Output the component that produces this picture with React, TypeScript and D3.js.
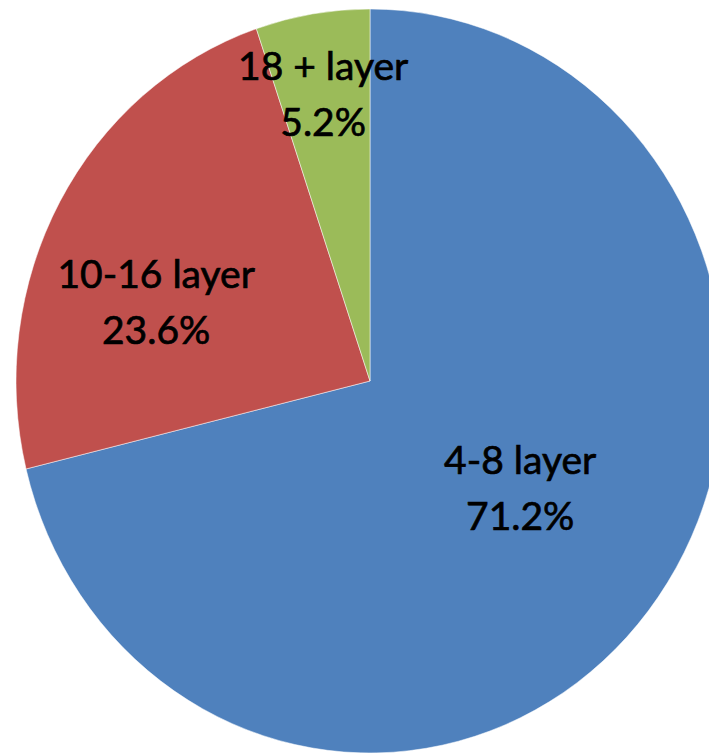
import { useMemo } from "react";
import * as d3 from "d3";

// slice data, clockwise from 12 o'clock
const categories = ["4-8 layer", "10-16 layer", "18 + layer"];
const shares = [71.2, 23.6, 5.2];
const colors = ["#4F81BD", "#C0504D", "#9BBB59"];

// label placement (best-fit style): shift from mid-angle (deg) and radius fraction
const labelShift = [-1.2, -12.3, -0.8];
const labelRadius = [0.531, 0.63, 0.75];

const width = 709;
const height = 753;
const cx = 370;
const cy = 381;
const rx = 354;
const ry = 372;

type Slice = { name: string; value: number; color: string };

export default function App(): JSX.Element {
  const slices: Slice[] = categories.map((name, i) => ({
    name,
    value: shares[i],
    color: colors[i],
  }));

  const arcs = useMemo(
    () =>
      d3
        .pie<Slice>()
        .sort(null)
        .value((d) => d.value)(slices),
    [],
  );

  const arc = d3.arc<d3.PieArcDatum<Slice>>().innerRadius(0).outerRadius(rx);
  const fmt = d3.format(".1f");
  const sy = ry / rx;

  return (
    <svg
      width={width}
      height={height}
      style={{ position: "absolute", left: 0, top: 0, background: "#fff" }}
    >
      <g transform={`translate(${cx},${cy}) scale(1,${sy})`}>
        {arcs.map((a, i) => (
          <path
            key={i}
            d={arc(a) ?? ""}
            fill={a.data.color}
            stroke="#fff"
            strokeOpacity={0.5}
            strokeWidth={1}
            vectorEffect="non-scaling-stroke"
          />
        ))}
      </g>
      <g
        fontFamily="Lato, 'Open Sans', sans-serif"
        fontSize={39}
        fill="#000"
        stroke="#000"
        strokeWidth={0.7}
        textAnchor="middle"
      >
        {arcs.map((a, i) => {
          const mid = (a.startAngle + a.endAngle) / 2 + (labelShift[i] * Math.PI) / 180;
          const r = rx * labelRadius[i];
          const x = cx + r * Math.sin(mid);
          const y = cy - r * Math.cos(mid) * sy;
          return (
            <text key={i} x={x} y={y}>
              <tspan x={x} dy={-26}>
                {a.data.name}
              </tspan>
              <tspan x={x} dy={56}>
                {fmt(a.data.value)}%
              </tspan>
            </text>
          );
        })}
      </g>
    </svg>
  );
}
